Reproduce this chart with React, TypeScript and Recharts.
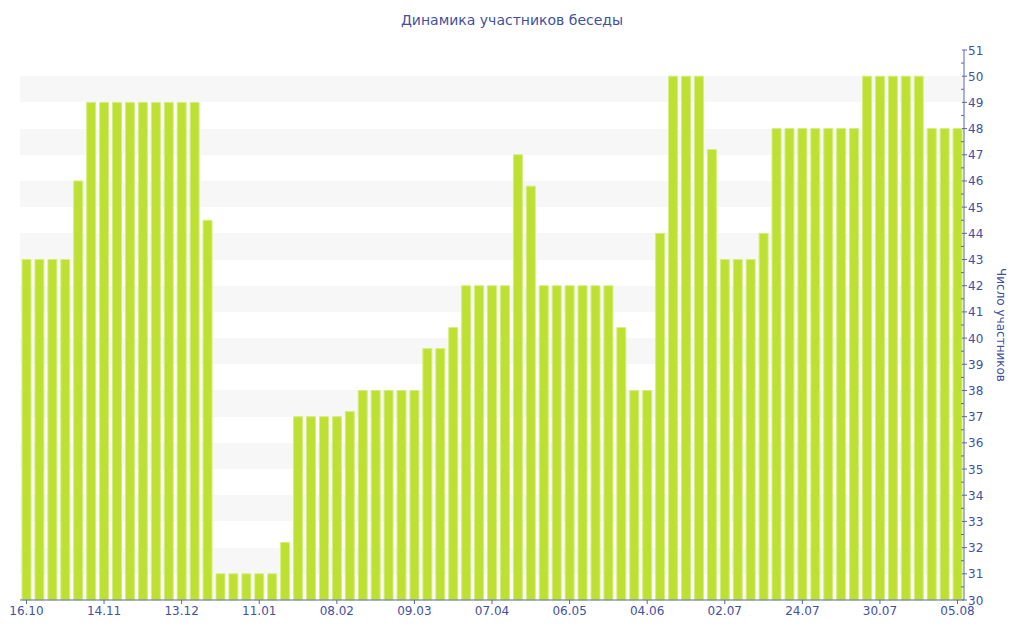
import React from 'react';
import { BarChart, Bar, XAxis, YAxis, CartesianGrid } from 'recharts';

const tickLabels = ['16.10', '14.11', '13.12', '11.01', '08.02', '09.03', '07.04', '06.05', '04.06', '02.07', '24.07', '30.07', '05.08'];

const participants = [
  43, 43, 43, 43, 46,
  49, 49, 49, 49, 49, 49, 49, 49, 49,
  44.5,
  31, 31, 31, 31, 31,
  32.2,
  37, 37, 37, 37, 37.2,
  38, 38, 38, 38, 38,
  39.6, 39.6, 40.4,
  42, 42, 42, 42,
  47, 45.8,
  42, 42, 42, 42, 42, 42,
  40.4, 38, 38, 44,
  50, 50, 50, 47.2,
  43, 43, 43, 44,
  48, 48, 48, 48, 48, 48, 48,
  50, 50, 50, 50, 50,
  48, 48, 48,
];

const yTicks = [30, 30.5, 31, 31.5, 32, 32.5, 33, 33.5, 34, 34.5, 35, 35.5, 36, 36.5, 37, 37.5, 38, 38.5, 39, 39.5, 40, 40.5, 41, 41.5, 42, 42.5, 43, 43.5, 44, 44.5, 45, 45.5, 46, 46.5, 47, 47.5, 48, 48.5, 49, 49.5, 50, 50.5, 51];

const data = participants.map((v, i) => ({ idx: i, value: v }));

const FONT = '"DejaVu Sans", Verdana, sans-serif';
const TEXT = '#3f51a0';
const AXIS = '#5668b0';

const YTick = (props: any) => {
  const { x, y, payload } = props;
  const v = payload.value as number;
  const major = Number.isInteger(v);
  if (!major) {
    return <line x1={x - 3} x2={x} y1={y} y2={y} stroke={AXIS} strokeWidth={1} />;
  }
  return (
    <g>
      <line x1={x - 2} x2={x + 3} y1={y} y2={y} stroke={AXIS} strokeWidth={1} />
      <text x={x + 4} y={y} dy={4.5} fill={TEXT} fontSize={12} fontFamily={FONT} textAnchor="start">
        {v}
      </text>
    </g>
  );
};

export default function App() {
  return (
    <div style={{ position: 'absolute', left: 0, top: 0, width: 1024, height: 640, background: '#fff' }}>
      <div
        style={{
          position: 'absolute',
          top: 12,
          left: 0,
          width: 1024,
          textAlign: 'center',
          fontFamily: FONT,
          fontSize: 14,
          color: TEXT,
        }}
      >
        Динамика участников беседы
      </div>
      <BarChart
        width={1024}
        height={640}
        data={data}
        margin={{ top: 50, right: 0, bottom: 0, left: 20 }}
        barSize={9}
      >
        <CartesianGrid
          vertical={false}
          horizontal={true}
          stroke="none"
          horizontalFill={['transparent', 'transparent', '#f7f7f7', '#f7f7f7']}
          fillOpacity={1}
        />
        <XAxis
          dataKey="idx"
          type="category"
          interval={5}
          height={40}
          tickSize={4}
          tickMargin={2}
          stroke={AXIS}
          tickLine={{ stroke: AXIS }}
          axisLine={{ stroke: AXIS }}
          tick={{ fill: TEXT, fontSize: 12, fontFamily: FONT }}
          tickFormatter={(v: number) => (v % 6 === 0 ? tickLabels[v / 6] : '')}
        />
        <YAxis
          orientation="right"
          width={60}
          domain={[30, 51]}
          ticks={yTicks}
          interval={0}
          tickSize={0}
          tickMargin={0}
          tickLine={false}
          axisLine={{ stroke: AXIS }}
          tick={<YTick />}
          label={{
            value: 'Число участников',
            angle: 90,
            position: 'center',
            dx: 7,
            fill: TEXT,
            fontSize: 12,
            fontFamily: FONT,
          }}
        />
        <Bar dataKey="value" fill="#bde032" stroke="#d6ee80" strokeWidth={1} isAnimationActive={false} />
      </BarChart>
    </div>
  );
}
